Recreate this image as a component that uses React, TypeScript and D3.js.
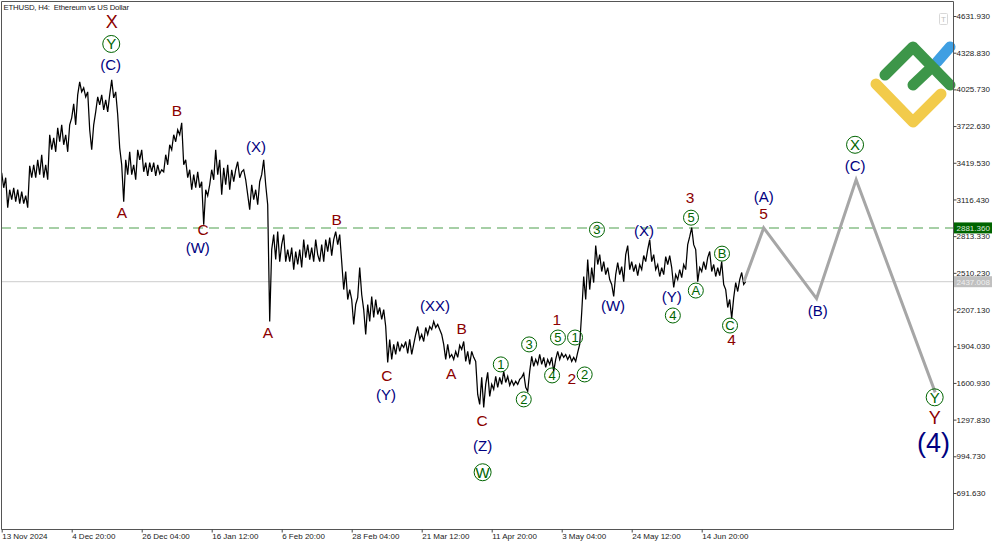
import React, { useEffect, useRef } from 'react';
import * as d3 from 'd3';

const WIDTH = 1000;
const HEIGHT = 545;

// price samples, one list per date tick interval (high/low swings)
const nov13 = [3337, 3213, 3296, 3049, 3197, 3115, 3213, 3098, 3197, 3082, 3181, 3082, 3148, 3049, 3395, 3296, 3403, 3296, 3444, 3321, 3486, 3296, 3403, 3279, 3651, 3527, 3626, 3510, 3708, 3593, 3733, 3568, 3651, 3510, 3733];
const dec04 = [3791, 3906, 3733, 3980, 4088, 4005, 4038, 3964, 4005, 3692, 3527, 3733, 3840, 3964, 3898, 3980, 3857, 3939, 3840, 3980, 4104, 3956, 4005, 3816, 3543, 3403, 3098, 3444, 3321, 3510, 3321, 3403, 3279, 3527, 3444];
const dec26 = [3527, 3345, 3420, 3312, 3420, 3345, 3420, 3312, 3403, 3329, 3362, 3345, 3486, 3403, 3568, 3527, 3651, 3593, 3692, 3651, 3750, 3403, 3444, 3296, 3362, 3197, 3321, 3213, 3345, 3213, 3263, 2908, 3197, 3148, 3238];
const jan16 = [3362, 3279, 3527, 3321, 3444, 3156, 3378, 3238, 3403, 3197, 3362, 3263, 3362, 3428, 3296, 3345, 3362, 3279, 3156, 3032, 3238, 3115, 3197, 3073, 3263, 3321, 3444, 3238, 3073, 2108, 2702, 2826, 2620, 2851, 2603];
const feb06 = [2743, 2826, 2603, 2702, 2603, 2719, 2537, 2686, 2579, 2702, 2554, 2785, 2636, 2743, 2620, 2719, 2603, 2785, 2661, 2603, 2743, 2603, 2785, 2686, 2801, 2653, 2785, 2851, 2743, 2826, 2603, 2372, 2521, 2290, 2372];
const feb28 = [2290, 2084, 2249, 2306, 2554, 2331, 2207, 2001, 2249, 2108, 2315, 2141, 2290, 2166, 2224, 2125, 2207, 2067, 1770, 1960, 1795, 1919, 1836, 1943, 1861, 1919, 1894, 1943, 1845, 1960, 1836, 1919, 2001, 2067, 1960];
const mar21 = [2001, 1943, 2059, 2001, 2067, 2042, 2108, 2059, 2084, 2042, 2001, 1919, 1795, 1919, 1812, 1836, 1795, 1861, 1812, 1911, 1877, 1943, 1779, 1861, 1754, 1861, 1812, 1779, 1506, 1424, 1647, 1399, 1589, 1688, 1490];
const apr11 = [1589, 1548, 1655, 1564, 1647, 1589, 1696, 1605, 1655, 1581, 1622, 1581, 1614, 1589, 1630, 1647, 1680, 1564, 1531, 1696, 1820, 1737, 1795, 1754, 1836, 1754, 1812, 1729, 1795, 1754, 1812, 1696, 1795, 1861, 1795];
const may03 = [1845, 1812, 1836, 1795, 1828, 1779, 1812, 1779, 1853, 1919, 2183, 2480, 2290, 2620, 2372, 2554, 2430, 2735, 2579, 2661, 2521, 2603, 2496, 2554, 2455, 2414, 2315, 2496, 2595, 2496, 2562, 2438, 2661, 2735, 2537];
const may24 = [2603, 2521, 2579, 2488, 2579, 2537, 2653, 2603, 2702, 2785, 2603, 2661, 2537, 2579, 2480, 2554, 2496, 2645, 2579, 2653, 2554, 2389, 2496, 2455, 2537, 2471, 2579, 2537, 2743, 2809, 2884, 2743, 2702, 2438, 2554];
const jun14 = [2521, 2603, 2537, 2636, 2686, 2521, 2579, 2480, 2554, 2488, 2603, 2414, 2372, 2224, 2290, 2133, 2306, 2430, 2356, 2455, 2513, 2414, 2438];
const priceSegments = [nov13, dec04, dec26, jan16, feb06, feb28, mar21, apr11, may03, may24, jun14];

const BARS_PER_TICK = 131;
const SAMPLES_PER_TICK = 35;

// forecast path, grey line
const forecastBars = [1389, 1426, 1525, 1599, 1747];
const forecastPrices = [2437, 2881, 2298, 3280, 1523];

const priceTicks = [4631.93, 4328.83, 4025.73, 3722.63, 3419.53, 3116.43, 2813.33, 2510.23, 2207.13, 1904.03, 1600.93, 1297.83, 994.73, 691.63];
const dateTicks = ['13 Nov 2024', '4 Dec 20:00', '26 Dec 04:00', '16 Jan 12:00', '6 Feb 20:00', '28 Feb 04:00', '21 Mar 12:00', '11 Apr 20:00', '3 May 04:00', '24 May 12:00', '14 Jun 20:00'];

const levelPrice = 2881.36;
const bidPrice = 2437.008;

// wave labels: text, bar, price
const redLabels: [string, number, number][] = [
  ['B', 328, 3849], ['A', 225, 3007], ['C', 377, 2867], ['A', 498, 2018], ['B', 627, 2950],
  ['B', 861, 2051], ['A', 841, 1680], ['C', 721, 1663], ['C', 899, 1292], ['1', 1039, 2125], ['2', 1067, 1638],
  ['3', 1288, 3131], ['4', 1366, 1960], ['5', 1426, 2999],
];
const redLargeLabels: [string, number, number][] = [['X', 206, 4583], ['Y', 1746, 1309]];
const blueLabels: [string, number, number][] = [
  ['(C)', 204, 4228], ['(W)', 367, 2719], ['(X)', 476, 3552], ['(XX)', 811, 2240], ['(Y)', 719, 1506], ['(Z)', 900, 1086],
  ['(W)', 1144, 2240], ['(X)', 1202, 2859], ['(Y)', 1254, 2315], ['(A)', 1426, 3139], ['(C)', 1597, 3395], ['(B)', 1527, 2199],
];
const circledLarge: [string, number, number][] = [
  ['Y', 205, 4401], ['W', 900, 863], ['X', 1597, 3568], ['Y', 1746, 1482],
];
const circledSmall: [string, number, number][] = [
  ['1', 934, 1754], ['2', 977, 1465], ['3', 987, 1919], ['4', 1030, 1663],
  ['5', 1041, 1976], ['1', 1073, 1976], ['2', 1091, 1671], ['3', 1114, 2867], ['4', 1256, 2158], ['5', 1290, 2966],
  ['A', 1299, 2364], ['B', 1348, 2669], ['C', 1363, 2075],
];
const bigLabel: [string, number, number] = ['(4)', 1744, 1102];

const FONT = '"Liberation Sans", Arial, sans-serif';
const RED = '#8b0000';
const NAVY = '#000080';
const GREEN = '#006400';

const App: React.FC = () => {
  const svgRef = useRef<SVGSVGElement | null>(null);

  useEffect(() => {
    const svg = d3.select(svgRef.current);
    svg.selectAll('*').remove();

    const left = 1, top = 1, right = 953, bottom = 529;

    const x = d3.scaleLinear().domain([0, BARS_PER_TICK * 10]).range([1.7, 701.7]);
    const y = d3.scaleLinear().domain([4631.93, 691.63]).range([16, 493]);

    // level lines
    svg.append('line').attr('x1', left).attr('x2', right).attr('y1', y(bidPrice)).attr('y2', y(bidPrice))
      .attr('stroke', '#cccccc').attr('stroke-width', 1);
    svg.append('line').attr('x1', left).attr('x2', right).attr('y1', y(levelPrice)).attr('y2', y(levelPrice))
      .attr('stroke', '#a6cfa6').attr('stroke-width', 2).attr('stroke-dasharray', '10 6');

    // price series
    const points: [number, number][] = [];
    priceSegments.forEach((seg, k) => {
      seg.forEach((p, j) => {
        points.push([(k + j / SAMPLES_PER_TICK) * BARS_PER_TICK, p]);
      });
    });
    const line = d3.line<[number, number]>().x((d) => x(d[0])).y((d) => y(d[1]));
    svg.append('path').attr('d', line(points)).attr('fill', 'none')
      .attr('stroke', '#000').attr('stroke-width', 1.25).attr('stroke-linejoin', 'miter');

    // forecast
    const fc = forecastBars.map((b, i) => [b, forecastPrices[i]] as [number, number]);
    svg.append('path').attr('d', line(fc)).attr('fill', 'none')
      .attr('stroke', '#a6a6a6').attr('stroke-width', 3);

    // logo
    const logo = svg.append('g').attr('fill', 'none').attr('stroke-width', 11).attr('stroke-linecap', 'round').attr('stroke-linejoin', 'round');
    logo.append('path').attr('d', 'M937,62L950,47').attr('stroke', '#3f9fe2');
    logo.append('path').attr('d', 'M876,84L913,122L941,94').attr('stroke', '#f2cb4b');
    logo.append('path').attr('d', 'M885,75L913,47L950,85M913,85L932,67').attr('stroke', '#3d9649');

    // small T button
    svg.append('rect').attr('x', 939.5).attr('y', 13.5).attr('width', 8).attr('height', 11).attr('rx', 1)
      .attr('fill', '#fff').attr('stroke', '#d8d8d8');
    svg.append('text').attr('x', 943.5).attr('y', 22).attr('text-anchor', 'middle').attr('font-family', FONT)
      .attr('font-size', 8).attr('fill', '#c0c0c0').text('T');

    // frame
    svg.append('path').attr('d', `M${left + 0.5},${bottom + 0.5}V${top + 0.5}H${right + 0.5}V${bottom + 0.5}H${left + 0.5}`)
      .attr('fill', 'none').attr('stroke', '#555').attr('stroke-width', 1);

    // axes
    const yAxis = d3.axisRight(y).tickValues(priceTicks).tickFormat(d3.format('.3f') as any).tickSize(3).tickPadding(0);
    const gy = svg.append('g').attr('transform', `translate(${right + 0.5},0)`).call(yAxis);
    gy.select('.domain').remove();
    gy.selectAll('text').attr('font-family', FONT).attr('font-size', 8).attr('fill', '#222');
    gy.selectAll('line').attr('stroke', '#444');

    const xAxis = d3.axisBottom(x).tickValues(dateTicks.map((_, i) => i * BARS_PER_TICK))
      .tickFormat((_, i) => dateTicks[i]).tickSize(3).tickPadding(1);
    const gx = svg.append('g').attr('transform', `translate(0,${bottom + 0.5})`).call(xAxis);
    gx.select('.domain').remove();
    gx.selectAll('text').attr('text-anchor', 'start').attr('font-family', FONT).attr('font-size', 8).attr('fill', '#222');
    gx.selectAll('line').attr('stroke', '#444');

    // price tags
    const tags = [
      { price: levelPrice, fill: GREEN, color: '#d8e8d8' },
      { price: bidPrice, fill: '#c0c0c0', color: '#f0f0f0' },
    ];
    tags.forEach((t) => {
      svg.append('rect').attr('x', 954).attr('y', y(t.price) - 5.5).attr('width', 38).attr('height', 11).attr('fill', t.fill);
      svg.append('text').attr('x', 956.5).attr('y', y(t.price) + 3).attr('font-family', FONT).attr('font-size', 8)
        .attr('fill', t.color).text(d3.format('.3f')(t.price));
    });

    // title
    svg.append('text').attr('x', 3.5).attr('y', 10).attr('font-family', FONT).attr('font-size', 7.8).attr('fill', '#222')
      .attr('letter-spacing', -0.2).style('white-space', 'pre').text('ETHUSD, H4:  Ethereum vs US Dollar');

    // wave labels
    const addLabels = (rows: [string, number, number][], color: string, size: number) => {
      svg.append('g').selectAll('text').data(rows).enter().append('text')
        .attr('x', (d) => x(d[1])).attr('y', (d) => y(d[2]))
        .attr('text-anchor', 'middle').attr('dominant-baseline', 'central')
        .attr('font-family', FONT).attr('font-size', size).attr('fill', color)
        .text((d) => d[0]);
    };
    addLabels(redLabels, RED, 15.5);
    addLabels(redLargeLabels, RED, 18);
    addLabels(blueLabels, NAVY, 15);
    addLabels([bigLabel], NAVY, 27);

    const addCircles = (rows: [string, number, number][], r: number) => {
      svg.append('g').selectAll('circle').data(rows).enter().append('circle')
        .attr('cx', (d) => x(d[1])).attr('cy', (d) => y(d[2])).attr('r', r)
        .attr('fill', 'none').attr('stroke', GREEN).attr('stroke-width', 1);
    };
    addCircles(circledLarge, 8.5);
    addCircles(circledSmall, 7.5);
    addLabels(circledLarge, GREEN, 15);
    addLabels(circledSmall, GREEN, 13);
  }, []);

  return (
    <svg ref={svgRef} width={WIDTH} height={HEIGHT}
      style={{ position: 'absolute', left: 0, top: 0, background: '#fff' }} />
  );
};

export default App;
